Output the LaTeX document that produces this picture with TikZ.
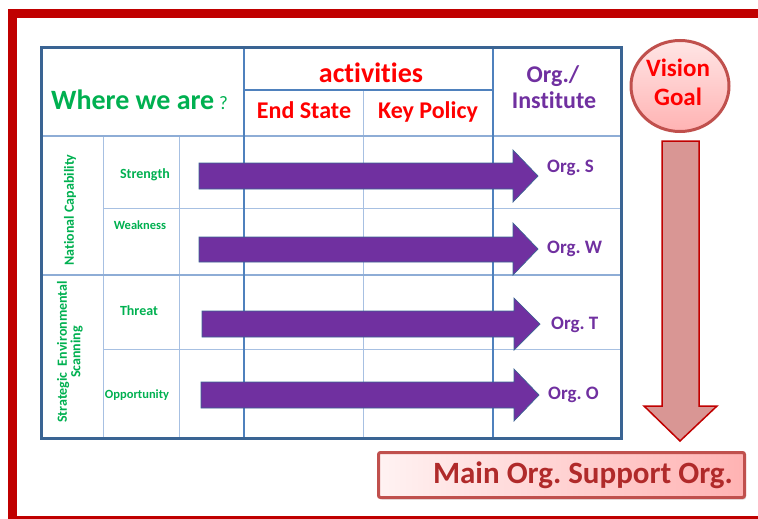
\documentclass[tikz,border=0pt]{standalone}
\usepackage{fontspec}
\setmainfont{Carlito}[Ligatures=NoCommon]
\frenchspacing
\usetikzlibrary{shadows,shapes.geometric}
\definecolor{frame}{HTML}{C00000}
\definecolor{tbdark}{HTML}{3A6493}
\definecolor{tbmid}{HTML}{4F81BD}
\definecolor{tblight}{HTML}{A7C0E2}
\definecolor{tbhead}{HTML}{8EADD6}
\definecolor{grn}{HTML}{00B050}
\definecolor{prp}{HTML}{7030A0}
\definecolor{rd}{HTML}{FF0000}
\definecolor{arrowfill}{HTML}{D99694}
\definecolor{pinkborder}{HTML}{C0504D}
\definecolor{mainred}{HTML}{B02A2A}
\tikzset{
  px/.style={font=\fontsize{#1}{#1}\selectfont\bfseries},
  greentxt/.style={text=grn, inner sep=0pt},
  headred/.style={text=rd, inner sep=0pt, px=24},
  orgtxt/.style={text=prp, inner sep=0pt, px=19},
  purplearrow/.style={fill=prp, draw=tbdark, line width=0.7pt},
  thinline/.style={draw=tblight, line width=1pt},
  midline/.style={draw=tbmid, line width=1.8pt},
  headline/.style={draw=tbhead, line width=1.5pt},
}
\begin{document}
\begin{tikzpicture}[x=1pt,y=-1pt]
\useasboundingbox (0,0) rectangle (758,519);
\begin{scope}
\clip (0,0) rectangle (758,519);
\draw[frame, line width=9pt] (12.5,13.5) rectangle (775,520.5);
\end{scope}

% table grid
\draw[thinline] (103,136) -- (103,438);
\draw[thinline] (179,136) -- (179,438);
\draw[thinline] (363,90) -- (363,438);
\draw[thinline] (103,208) -- (621,208);
\draw[thinline] (103,349) -- (621,349);
\draw[headline] (41,136) -- (621,136);
\draw[headline] (41,275) -- (621,275);
\draw[midline] (244,90) -- (493,90);
\draw[midline] (244,47) -- (244,438);
\draw[midline] (493,47) -- (493,438);
\draw[tbdark, line width=3pt] (41.5,47.5) rectangle (621.5,438.5);

% header texts
\node[greentxt, px=28, anchor=base west] (where) at (51,110) {Where we are\,{\mdseries\fontsize{19}{19}\selectfont ?}};
\node[text=rd, inner sep=0pt, px=28, anchor=base] (act) at (371,82) {activities};
\node[headred, anchor=base] (end) at (304,118) {End State};
\node[headred, anchor=base] (key) at (428,118) {Key Policy};
\node[text=prp, inner sep=0pt, px=24, anchor=base] (org) at (553,82) {Org./};
\node[text=prp, inner sep=0pt, px=24, anchor=base] (inst) at (554,109) {Institute};

% row labels
\node[greentxt, px=14, rotate=90] (nat) at (70,210) {National Capability};
\node[greentxt, px=14, rotate=90, align=center] (ses) at (70,352) {Strategic\ \ Environmental\\[-0.5pt]Scanning};
\node[greentxt, px=14, anchor=base] (str) at (145,178) {Strength};
\node[greentxt, px=12.5, anchor=base] (weak) at (140,229) {Weakness};
\node[greentxt, px=14, anchor=base] (thr) at (139,315) {Threat};
\node[greentxt, px=12.5, anchor=base] (opp) at (137,398) {Opportunity};

% purple arrows
\draw[purplearrow] (199,163) -- (513,163) -- (513,150) -- (538,176) -- (513,202) -- (513,189) -- (199,189) -- cycle;
\draw[purplearrow] (199,237) -- (513,237) -- (513,223) -- (538,249) -- (513,275) -- (513,262) -- (199,262) -- cycle;
\draw[purplearrow] (202,311) -- (514,311) -- (514,298) -- (540,324) -- (514,350) -- (514,337) -- (202,337) -- cycle;
\draw[purplearrow] (201,382) -- (514,382) -- (514,369) -- (539,395) -- (514,421) -- (514,408) -- (201,408) -- cycle;

\node[orgtxt, anchor=base west] (os) at (547,172) {Org. S};
\node[orgtxt, anchor=base west] (ow) at (547,253) {Org. W};
\node[orgtxt, anchor=base west] (ot) at (551,329) {Org. T};
\node[orgtxt, anchor=base west] (oo) at (548,399) {Org. O};

% vision goal
\node[draw=pinkborder, line width=3pt, ellipse, minimum width=98pt, minimum height=91pt,
  top color=red!10, bottom color=red!30, inner sep=0pt] (vision) at (680,86) {};
\node[text=rd, inner sep=0pt, px=25, anchor=base] (vis) at (678,77) {Vision};
\node[text=rd, inner sep=0pt, px=25, anchor=base] (goal) at (678,105) {Goal};

% down arrow
\draw[fill=arrowfill, draw=frame, line width=1.5pt] (662,141) -- (699,141) -- (699,406) -- (717,406) -- (680,441) -- (644,406) -- (662,406) -- cycle;

% main org bar
\node[draw=pinkborder, line width=3pt, rounded corners=2pt, minimum width=366pt, minimum height=45pt,
  left color=red!5, right color=red!30, drop shadow={opacity=0.25, shadow xshift=1.5pt, shadow yshift=-2pt}] (bar) at (561.5,475) {};
\node[text=mainred, inner sep=0pt, px=31, anchor=base] (main) at (583,483.5) {Main Org. Support Org.};
\end{tikzpicture}
\end{document}
